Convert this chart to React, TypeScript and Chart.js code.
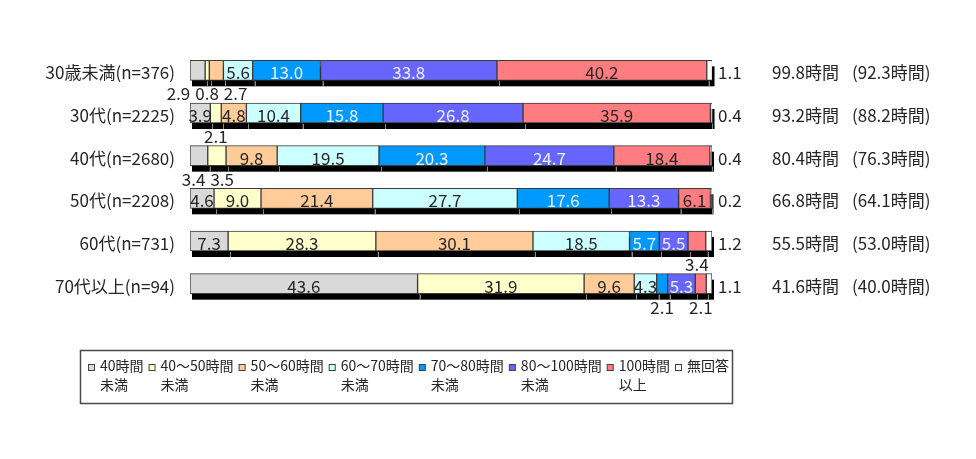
import React, { useEffect, useRef } from "react";
import { Chart, registerables } from "chart.js";

Chart.register(...registerables);

// Age groups (rows)
const categories = [
  "30歳未満(n=376)",
  "30代(n=2225)",
  "40代(n=2680)",
  "50代(n=2208)",
  "60代(n=731)",
  "70代以上(n=94)",
];

// Share (%) of each monthly-hours band per age group
const under40 = [2.9, 3.9, 3.4, 4.6, 7.3, 43.6];
const h40to50 = [0.8, 2.1, 3.5, 9.0, 28.3, 31.9];
const h50to60 = [2.7, 4.8, 9.8, 21.4, 30.1, 9.6];
const h60to70 = [5.6, 10.4, 19.5, 27.7, 18.5, 4.3];
const h70to80 = [13.0, 15.8, 20.3, 17.6, 5.7, 2.1];
const h80to100 = [33.8, 26.8, 24.7, 13.3, 5.5, 5.3];
const h100plus = [40.2, 35.9, 18.4, 6.1, 3.4, 2.1];
const noAnswer = [1.1, 0.4, 0.4, 0.2, 1.2, 1.1];

// Average hours shown at the right of each row
const avgHours = [99.8, 93.2, 80.4, 66.8, 55.5, 41.6];
const avgHoursParen = [92.3, 88.2, 76.3, 64.1, 53.0, 40.0];

// Series names, split into the two legend lines
const seriesLine1 = ["40時間", "40～50時間", "50～60時間", "60～70時間", "70～80時間", "80～100時間", "100時間", "無回答"];
const seriesLine2 = ["未満", "未満", "未満", "未満", "未満", "未満", "以上", ""];

const seriesValues = [under40, h40to50, h50to60, h60to70, h70to80, h80to100, h100plus, noAnswer];
const seriesColors = ["#d9d9d9", "#ffffcc", "#ffcc99", "#ccffff", "#0099ff", "#6666ff", "#ff7c80", "#ffffff"];
const seriesTextColors = ["#262626", "#262626", "#262626", "#262626", "#eef0ff", "#eef0ff", "#262626", "#262626"];

const FONT = '"Noto Sans CJK JP", "Noto Sans", sans-serif';
const TEXT = "#262626";

type Item = { cx: number; w: number; x: number; text: string };

// Push overlapping small-value labels apart, keeping each group centred.
function spreadLabels(items: Item[], gap: number) {
  items.sort((a, b) => a.cx - b.cx);
  type Cluster = { members: Item[]; center: number };
  const widthOf = (c: Cluster) => c.members.reduce((s, m) => s + m.w, 0) + gap * (c.members.length - 1);
  let clusters: Cluster[] = items.map((it) => ({ members: [it], center: it.cx }));
  let changed = true;
  while (changed) {
    changed = false;
    for (let i = 0; i < clusters.length - 1; i++) {
      const a = clusters[i];
      const b = clusters[i + 1];
      if (a.center + widthOf(a) / 2 + gap > b.center - widthOf(b) / 2) {
        const members = [...a.members, ...b.members];
        const center = members.reduce((s, m) => s + m.cx, 0) / members.length;
        clusters.splice(i, 2, { members, center });
        changed = true;
        break;
      }
    }
  }
  clusters.forEach((c) => {
    let x = c.center - widthOf(c) / 2;
    c.members.forEach((m) => {
      m.x = x + m.w / 2;
      x += m.w + gap;
    });
  });
}

const SHADOW_DX = 2;
const SHADOW_DY = 6;

const decorPlugin = {
  id: "decor",
  beforeDatasetsDraw(chart: any) {
    const ctx: CanvasRenderingContext2D = chart.ctx;
    ctx.save();
    const seps: Array<[number, number, number]> = [];
    chart.data.datasets.forEach((_: any, di: number) => {
      const meta = chart.getDatasetMeta(di);
      meta.data.forEach((el: any) => {
        const { x, y, base, height } = el.getProps(["x", "y", "base", "height"], true);
        const left = Math.min(x, base);
        const w = Math.abs(x - base);
        ctx.fillStyle = "#000";
        ctx.fillRect(left + SHADOW_DX, y - height / 2 + SHADOW_DY, w, height);
        if (di > 0) seps.push([left + SHADOW_DX, y + height / 2 + 1, y + height / 2 + SHADOW_DY]);
      });
    });
    ctx.strokeStyle = "#8a8a8a";
    ctx.lineWidth = 1;
    seps.forEach(([sx, y0, y1]) => {
      ctx.beginPath();
      ctx.moveTo(Math.round(sx) + 0.5, y0);
      ctx.lineTo(Math.round(sx) + 0.5, y1);
      ctx.stroke();
    });
    ctx.restore();
  },
  afterDatasetsDraw(chart: any) {
    const ctx: CanvasRenderingContext2D = chart.ctx;
    ctx.save();
    ctx.font = `17px ${FONT}`;
    ctx.textBaseline = "alphabetic";
    const nSeries = chart.data.datasets.length;
    const below: Item[][] = categories.map(() => []);
    const rowBottom: number[] = [];
    chart.data.datasets.forEach((ds: any, di: number) => {
      const meta = chart.getDatasetMeta(di);
      meta.data.forEach((el: any, ri: number) => {
        const { x, y, base, height } = el.getProps(["x", "y", "base", "height"], true);
        const text = Number(ds.data[ri]).toFixed(1);
        const bottom = y + height / 2;
        rowBottom[ri] = bottom;
        const w = Math.abs(x - base);
        if (di === nSeries - 1) {
          ctx.fillStyle = TEXT;
          ctx.textAlign = "left";
          ctx.fillText(text, chart.chartArea.right + 6, bottom - 1);
          return;
        }
        if (w >= 19) {
          ctx.fillStyle = seriesTextColors[di];
          ctx.textAlign = "center";
          ctx.fillText(text, (x + base) / 2, bottom - 1);
        } else {
          const tw = ctx.measureText(text).width;
          below[ri].push({ cx: (x + base) / 2, w: tw, x: 0, text });
        }
      });
    });
    ctx.fillStyle = TEXT;
    ctx.textAlign = "center";
    below.forEach((items, ri) => {
      if (!items.length) return;
      spreadLabels(items, 5);
      items.forEach((it) => ctx.fillText(it.text, it.x, rowBottom[ri] + 20));
    });
    ctx.restore();
  },
  afterDraw(chart: any) {
    const ctx: CanvasRenderingContext2D = chart.ctx;
    const yScale = chart.scales.y;
    ctx.save();
    ctx.fillStyle = TEXT;
    ctx.font = `17px ${FONT}`;
    ctx.textBaseline = "alphabetic";
    categories.forEach((label, i) => {
      const yc = yScale.getPixelForValue(i);
      const baseY = yc + 10 - 1;
      ctx.textAlign = "right";
      ctx.fillText(label, 175, baseY);
      ctx.textAlign = "left";
      ctx.fillText(`${avgHours[i].toFixed(1)}時間`, 772, baseY);
      ctx.fillText(`(${avgHoursParen[i].toFixed(1)}時間)`, 852, baseY);
    });

    // Legend
    ctx.strokeStyle = "#4a4a4a";
    ctx.lineWidth = 1.5;
    ctx.strokeRect(80.5, 350.5, 652, 53);
    ctx.font = `14px ${FONT}`;
    let mx = 88.5;
    seriesLine1.forEach((t, i) => {
      ctx.fillStyle = seriesColors[i];
      ctx.fillRect(mx, 364.5, 6, 6);
      ctx.strokeStyle = "#404040";
      ctx.lineWidth = 1;
      ctx.strokeRect(mx, 364.5, 6, 6);
      const tx = mx + 11.5;
      ctx.fillStyle = TEXT;
      ctx.textAlign = "left";
      ctx.fillText(t, tx, 371);
      if (seriesLine2[i]) ctx.fillText(seriesLine2[i], tx, 390);
      mx = tx + ctx.measureText(t).width + 5.5;
    });
    ctx.restore();
  },
};

export default function App() {
  const ref = useRef<HTMLCanvasElement | null>(null);
  useEffect(() => {
    if (!ref.current) return;
    const chart = new Chart(ref.current, {
      type: "bar",
      data: {
        labels: categories,
        datasets: seriesValues.map((vals, i) => ({
          label: `${seriesLine1[i]}${seriesLine2[i]}`,
          data: vals,
          backgroundColor: seriesColors[i],
          borderColor: "#3c3c3c",
          borderWidth: 1,
          borderSkipped: false,
          barThickness: 20,
        })),
      },
      options: {
        indexAxis: "y",
        responsive: false,
        animation: false,
        devicePixelRatio: 1,
        layout: { padding: { left: 190, right: 264, top: 49, bottom: 154 } },
        plugins: { legend: { display: false }, tooltip: { enabled: false } },
        scales: {
          x: { stacked: true, min: 0, max: 100, display: false },
          y: { stacked: true, display: false },
        },
      },
      plugins: [decorPlugin],
    } as any);
    return () => chart.destroy();
  }, []);
  return (
    <div style={{ position: "fixed", left: 0, top: 0, background: "#fff" }}>
      <canvas ref={ref} width={976} height={459} style={{ display: "block" }} />
    </div>
  );
}
